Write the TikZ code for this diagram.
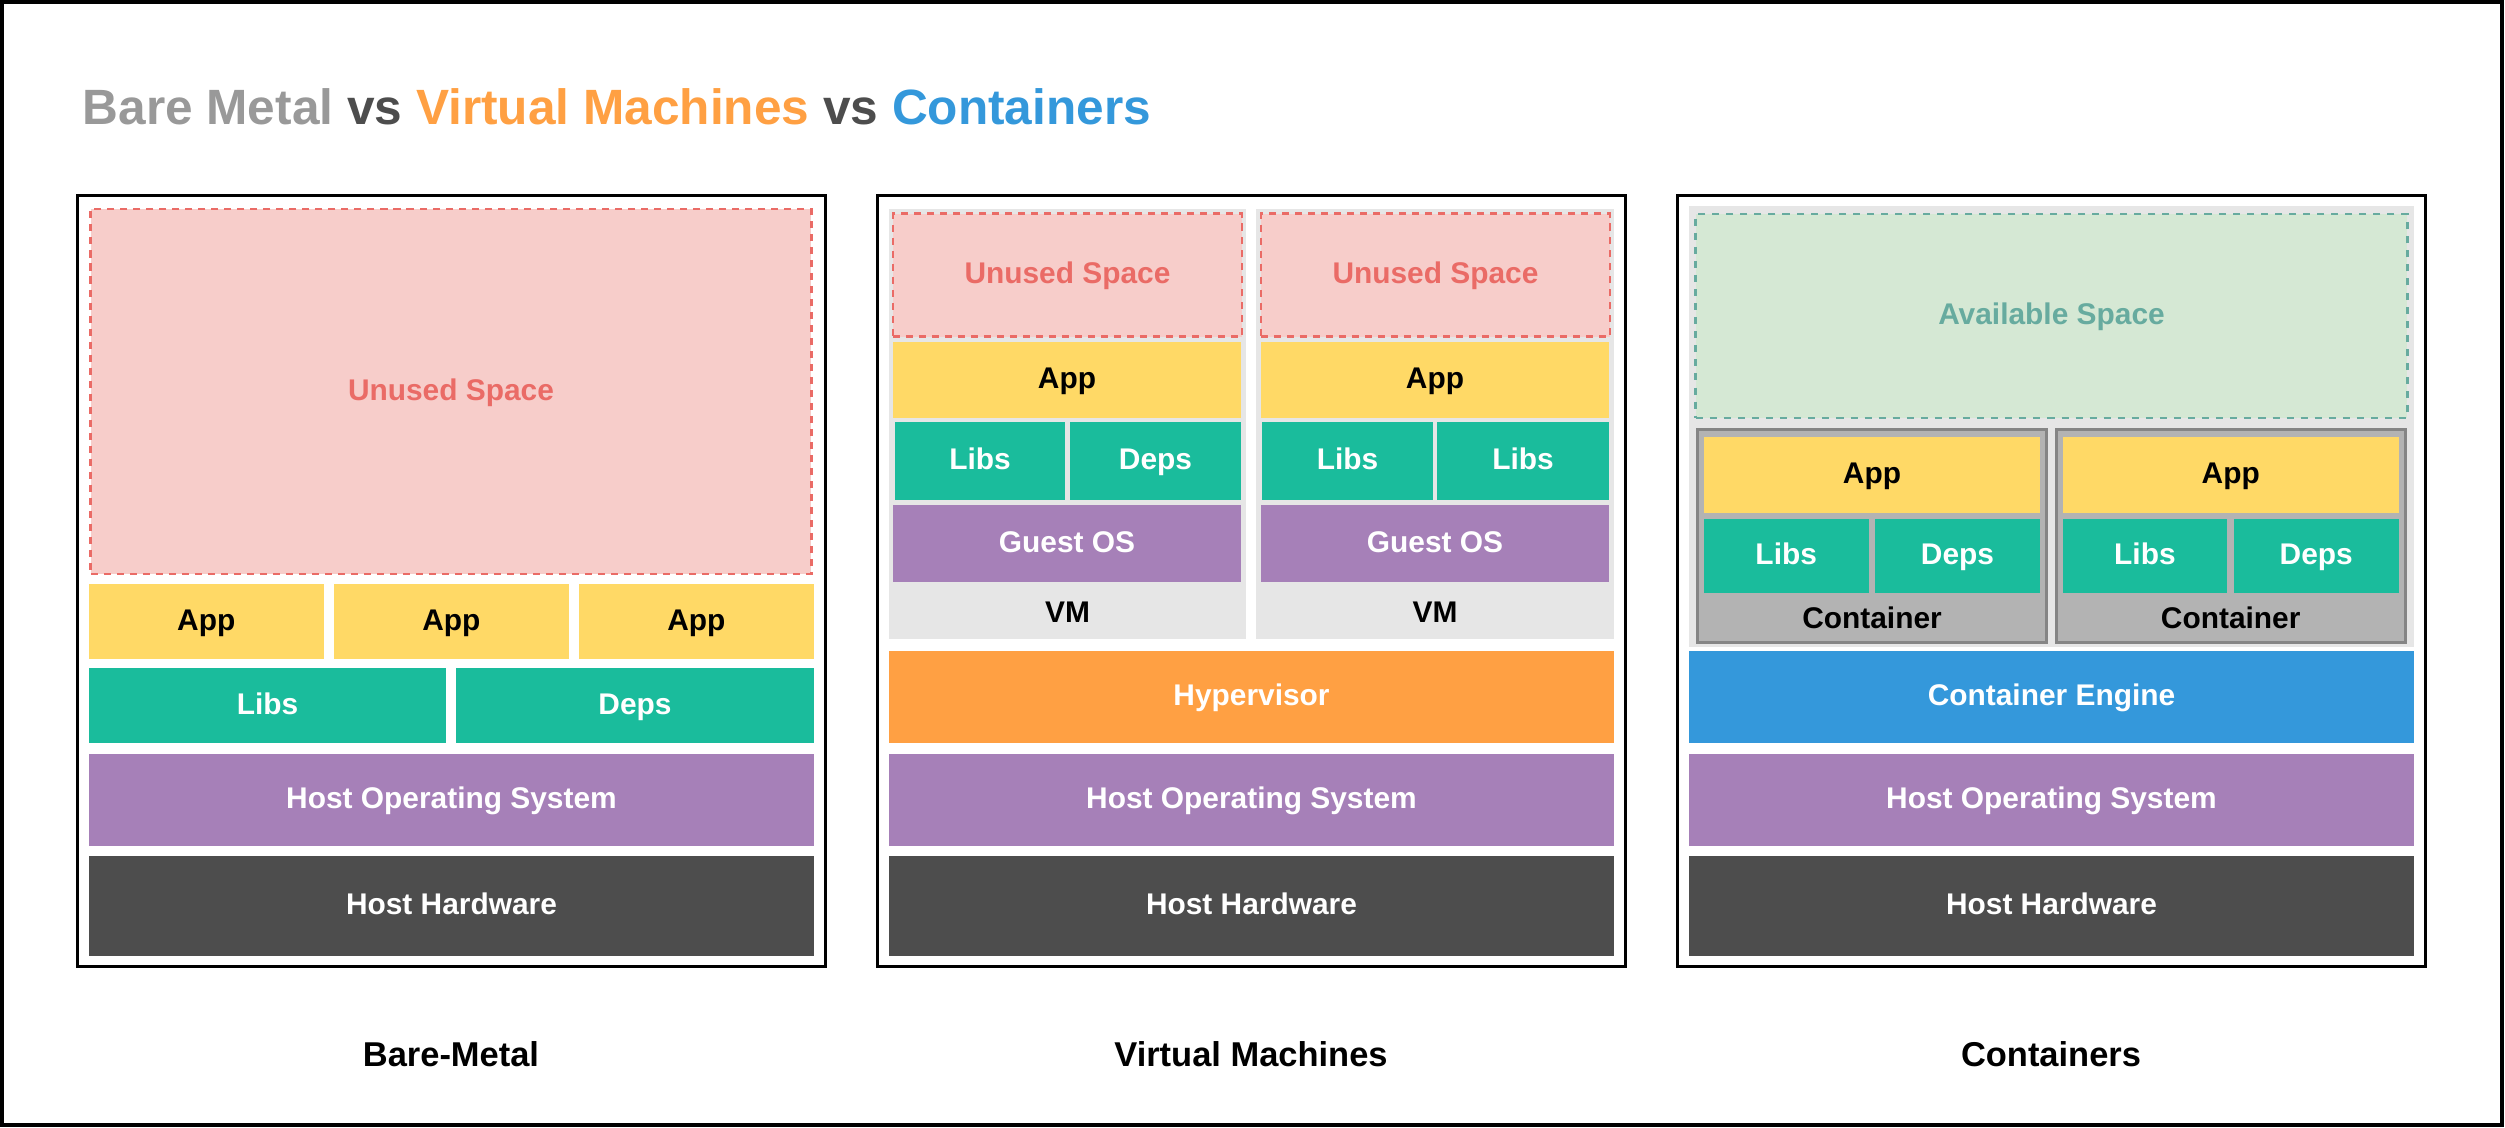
\documentclass[tikz,border=0pt]{standalone}
\usepackage{fontspec}
\setmainfont{Liberation Sans}

\definecolor{unusedfill}{HTML}{F7CDCA}
\definecolor{unusedline}{HTML}{EA6B66}
\definecolor{appyellow}{HTML}{FFD966}
\definecolor{libteal}{HTML}{1ABC9C}
\definecolor{ospurple}{HTML}{A680B8}
\definecolor{hwgray}{HTML}{4D4D4D}
\definecolor{hyperorange}{HTML}{FFA043}
\definecolor{engineblue}{HTML}{3498DB}
\definecolor{vmgray}{HTML}{E6E6E6}
\definecolor{boxgray}{HTML}{B3B3B3}
\definecolor{boxline}{HTML}{858585}
\definecolor{availfill}{HTML}{D5E8D4}
\definecolor{availline}{HTML}{67AB9F}
\definecolor{titlegray}{HTML}{999999}

\begin{document}
\begin{tikzpicture}[x=0.01cm, y=-0.01cm,
    layer/.style={rectangle, inner sep=0pt, outer sep=0pt, draw=none,
      text height=0.72em, text depth=0.22em,
      font=\bfseries\fontsize{8.5}{10}\selectfont},
    app/.style={layer, fill=appyellow, text=black},
    lib/.style={layer, fill=libteal, text=white},
    os/.style={layer, fill=ospurple, text=white},
    hw/.style={layer, fill=hwgray, text=white},
    hyper/.style={layer, fill=hyperorange, text=white},
    engine/.style={layer, fill=engineblue, text=white},
    unused/.style={layer, fill=unusedfill, draw=unusedline, line width=0.75pt,
      dash pattern=on 2pt off 1.7pt, text=unusedline},
    avail/.style={layer, fill=availfill, draw=availline, line width=0.75pt,
      dash pattern=on 2pt off 2pt, text=availline},
    vmbox/.style={layer, fill=vmgray},
    cbox/.style={layer, fill=boxgray, draw=boxline, line width=0.85pt},
    tag/.style={inner sep=0pt, text height=0.72em, text depth=0.22em,
      font=\bfseries\fontsize{8.5}{10}\selectfont},
    panel/.style={rectangle, inner sep=0pt, draw=black, line width=0.85pt},
    caption/.style={inner sep=0pt, font=\bfseries\fontsize{9.8}{12}\selectfont}
  ]
  \useasboundingbox (0,0) rectangle (2505,1128);
  % outer frame
  \draw[line width=0.9pt] (2,2) rectangle (2502,1125);

  % title
  \node[anchor=base west, inner sep=0pt, font=\bfseries\fontsize{14.1}{17}\selectfont]
    (title) at (82,125) {\textcolor{titlegray}{Bare Metal} \textcolor{hwgray}{vs}
    \textcolor{hyperorange}{Virtual Machines} \textcolor{hwgray}{vs}
    \textcolor{engineblue}{Containers}};

  % panel frames, host OS and hardware
  \foreach \p/\cx in {bm/451.5, vm/1251.5, ct/2051.5} {
    \node[panel, minimum width=7.47cm, minimum height=7.71cm] (\p Panel) at (\cx,581) {};
    \node[os, minimum width=7.25cm, minimum height=0.92cm] (\p HostOS) at (\cx,800) {Host Operating System};
    \node[hw, minimum width=7.25cm, minimum height=0.99cm] (\p HostHW) at (\cx,906) {Host Hardware};
  }

  % Bare metal
  \node[unused, minimum width=7.20cm, minimum height=3.65cm] (bmUnused) at (451,391.5) {Unused Space};
  \node[app, minimum width=2.35cm, minimum height=0.75cm] (bmAppA) at (206.3,621.3) {App};
  \node[app, minimum width=2.35cm, minimum height=0.75cm] (bmAppB) at (451.3,621.3) {App};
  \node[app, minimum width=2.35cm, minimum height=0.75cm] (bmAppC) at (696.3,621.3) {App};
  \node[lib, minimum width=3.57cm, minimum height=0.75cm] (bmLibs) at (267.5,705.5) {Libs};
  \node[lib, minimum width=3.58cm, minimum height=0.75cm] (bmDeps) at (635,705.5) {Deps};

  % Virtual machines
  \node[vmbox, minimum width=3.57cm, minimum height=4.30cm] (vmBoxA) at (1067.5,424) {};
  \node[vmbox, minimum width=3.58cm, minimum height=4.30cm] (vmBoxB) at (1435,424) {};
  \node[unused, minimum width=3.49cm, minimum height=1.23cm] (vmUnusedA) at (1067.5,275.2) {Unused Space};
  \node[unused, minimum width=3.49cm, minimum height=1.23cm] (vmUnusedB) at (1435.5,275.2) {Unused Space};
  \node[app, minimum width=3.48cm, minimum height=0.76cm] (vmAppA) at (1067,380) {App};
  \node[app, minimum width=3.48cm, minimum height=0.76cm] (vmAppB) at (1435,380) {App};
  \node[lib, minimum width=1.70cm, minimum height=0.78cm] (vmLibsA) at (980,461) {Libs};
  \node[lib, minimum width=1.71cm, minimum height=0.78cm] (vmDepsA) at (1155.5,461) {Deps};
  \node[lib, minimum width=1.70cm, minimum height=0.78cm] (vmLibsB) at (1347.5,461) {Libs};
  \node[lib, minimum width=1.71cm, minimum height=0.78cm] (vmLibsC) at (1523,461) {Libs};
  \node[os, minimum width=3.48cm, minimum height=0.775cm] (vmGuestA) at (1067,543.7) {Guest OS};
  \node[os, minimum width=3.48cm, minimum height=0.775cm] (vmGuestB) at (1435,543.7) {Guest OS};
  \node[tag] (vmTagA) at (1067.5,613.7) {VM};
  \node[tag] (vmTagB) at (1435,613.7) {VM};
  \node[hyper, minimum width=7.25cm, minimum height=0.92cm] (vmHyper) at (1251.5,697) {Hypervisor};

  % Containers
  \node[vmbox, minimum width=7.25cm, minimum height=4.41cm] (ctBack) at (2051.5,426.5) {};
  \node[avail, minimum width=7.11cm, minimum height=2.04cm] (ctAvail) at (2051.5,316) {Available Space};
  \node[cbox, minimum width=3.49cm, minimum height=2.125cm] (ctBoxA) at (1872,536.2) {};
  \node[cbox, minimum width=3.49cm, minimum height=2.125cm] (ctBoxB) at (2230.7,536.2) {};
  \node[app, minimum width=3.36cm, minimum height=0.75cm] (ctAppA) at (1872,475) {App};
  \node[app, minimum width=3.36cm, minimum height=0.75cm] (ctAppB) at (2230.7,475) {App};
  \node[lib, minimum width=1.645cm, minimum height=0.74cm] (ctLibsA) at (1786.2,556) {Libs};
  \node[lib, minimum width=1.65cm, minimum height=0.74cm] (ctDepsA) at (1957.5,556) {Deps};
  \node[lib, minimum width=1.645cm, minimum height=0.74cm] (ctLibsB) at (2144.9,556) {Libs};
  \node[lib, minimum width=1.65cm, minimum height=0.74cm] (ctDepsB) at (2316.2,556) {Deps};
  \node[tag] (ctTagA) at (1872,620) {Container};
  \node[tag] (ctTagB) at (2230.7,620) {Container};
  \node[engine, minimum width=7.25cm, minimum height=0.92cm] (ctEngine) at (2051.5,697) {Container Engine};

  % captions
  \node[caption] (bmCaption) at (451,1054) {Bare-Metal};
  \node[caption] (vmCaption) at (1251,1054) {Virtual Machines};
  \node[caption] (ctCaption) at (2051,1054) {Containers};
\end{tikzpicture}
\end{document}
